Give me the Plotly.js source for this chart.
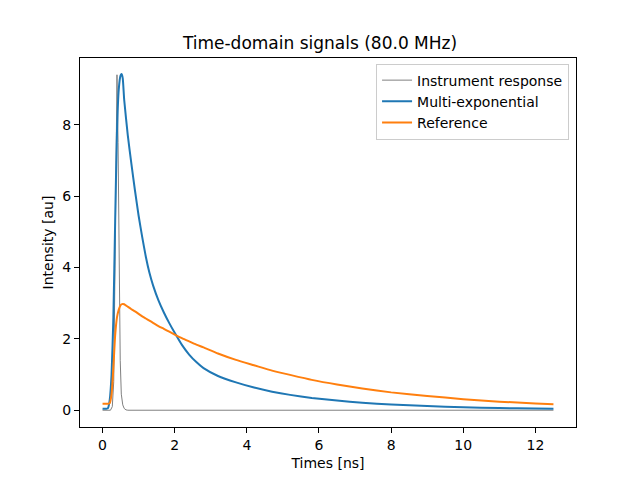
<!DOCTYPE html>
<html>
<head>
<meta charset="utf-8">
<script src="https://cdn.plot.ly/plotly-3.0.1.min.js"></script>
<style>
  html, body { margin: 0; padding: 0; background: #fff; }
  #plot { width: 640px; height: 480px; }
</style>
</head>
<body>
<div id="plot"></div>
<script>
// instrument response (ns, au)
var irf_t = [0, 0.22, 0.27, 0.31, 0.34, 0.37, 0.40, 0.43, 0.46, 0.49, 0.52, 0.56, 0.60, 0.65, 0.70, 12.5];
var irf_y = [0, 0, 0.1, 0.8, 3.5, 7.5, 9.4, 7.5, 3.8, 1.4, 0.45, 0.15, 0.05, 0.01, 0, 0];

// multi-exponential and reference decays share one time grid
var sig_t = [0, 0.1, 0.15, 0.2, 0.25, 0.3, 0.35, 0.4, 0.45, 0.5, 0.53, 0.56, 0.6, 0.7, 0.8,
             0.9, 1.0, 1.1, 1.2, 1.3, 1.4, 1.55, 1.7, 1.85, 2.0, 2.2, 2.4, 2.6, 2.8, 3.2,
             3.7, 4.2, 4.7, 5.2, 5.8, 6.5, 7.2, 8.0, 9.0, 10.0, 11.0, 12.0, 12.5];
var multi_y = [0.04, 0.04, 0.06, 0.3, 1.0, 2.6, 5.3, 7.8, 9.0, 9.38, 9.42, 9.3, 8.7, 7.7, 6.9,
               6.15, 5.45, 4.85, 4.3, 3.85, 3.5, 3.08, 2.74, 2.44, 2.17, 1.83, 1.56, 1.35, 1.18, 0.96,
               0.78, 0.635, 0.52, 0.43, 0.345, 0.27, 0.21, 0.16, 0.115, 0.08, 0.06, 0.045, 0.04];
var ref_y = [0.18, 0.18, 0.18, 0.2, 0.45, 1.2, 2.1, 2.6, 2.82, 2.94, 2.97, 2.98, 2.97, 2.9, 2.83,
             2.77, 2.70, 2.63, 2.57, 2.51, 2.45, 2.36, 2.28, 2.20, 2.12, 2.02, 1.93, 1.84, 1.76, 1.59,
             1.41, 1.26, 1.11, 0.99, 0.85, 0.72, 0.61, 0.50, 0.40, 0.31, 0.24, 0.19, 0.17];

var font = 'DejaVu Sans, sans-serif';

var data = [
    {
        x: irf_t, y: irf_y, name: 'Instrument response',
        type: 'scatter', mode: 'lines',
        line: {color: 'gray', width: 1}
    },
    {
        x: sig_t, y: multi_y, name: 'Multi-exponential',
        type: 'scatter', mode: 'lines',
        line: {color: '#1f77b4', width: 2, shape: 'spline', smoothing: 0.5}
    },
    {
        x: sig_t, y: ref_y, name: 'Reference',
        type: 'scatter', mode: 'lines',
        line: {color: '#ff7f0e', width: 2, shape: 'spline', smoothing: 0.5}
    }
];

var axis_common = {
    showgrid: false,
    zeroline: false,
    showline: true,
    mirror: true,
    linecolor: 'black',
    linewidth: 1,
    ticks: 'outside',
    ticklen: 5,
    tickwidth: 1,
    tickcolor: 'black',
    tickfont: {family: font, size: 14, color: 'black'}
};

var layout = {
    width: 640,
    height: 480,
    margin: {l: 80, r: 64, t: 58, b: 53},
    paper_bgcolor: 'white',
    plot_bgcolor: 'white',
    font: {family: font, color: 'black'},
    title: {
        text: 'Time-domain signals (80.0 MHz)',
        font: {family: font, size: 17, color: 'black'},
        x: 0.5, xanchor: 'center',
        y: 0.91, yanchor: 'middle'
    },
    xaxis: Object.assign({}, axis_common, {
        range: [-0.625, 13.125],
        tickvals: [0, 2, 4, 6, 8, 10, 12],
        title: {text: 'Times [ns]', font: {family: font, size: 14, color: 'black'}, standoff: 6}
    }),
    yaxis: Object.assign({}, axis_common, {
        range: [-0.47, 9.87],
        tickvals: [0, 2, 4, 6, 8],
        title: {text: 'Intensity [au]', font: {family: font, size: 14, color: 'black'}, standoff: 5}
    }),
    showlegend: true,
    legend: {
        x: 0.986, xanchor: 'right',
        y: 0.985, yanchor: 'top',
        bgcolor: 'rgba(255,255,255,0.8)',
        bordercolor: '#cccccc',
        borderwidth: 1,
        font: {family: font, size: 14, color: 'black'}
    }
};

Plotly.newPlot('plot', data, layout, {displayModeBar: false, staticPlot: true});
</script>
</body>
</html>
